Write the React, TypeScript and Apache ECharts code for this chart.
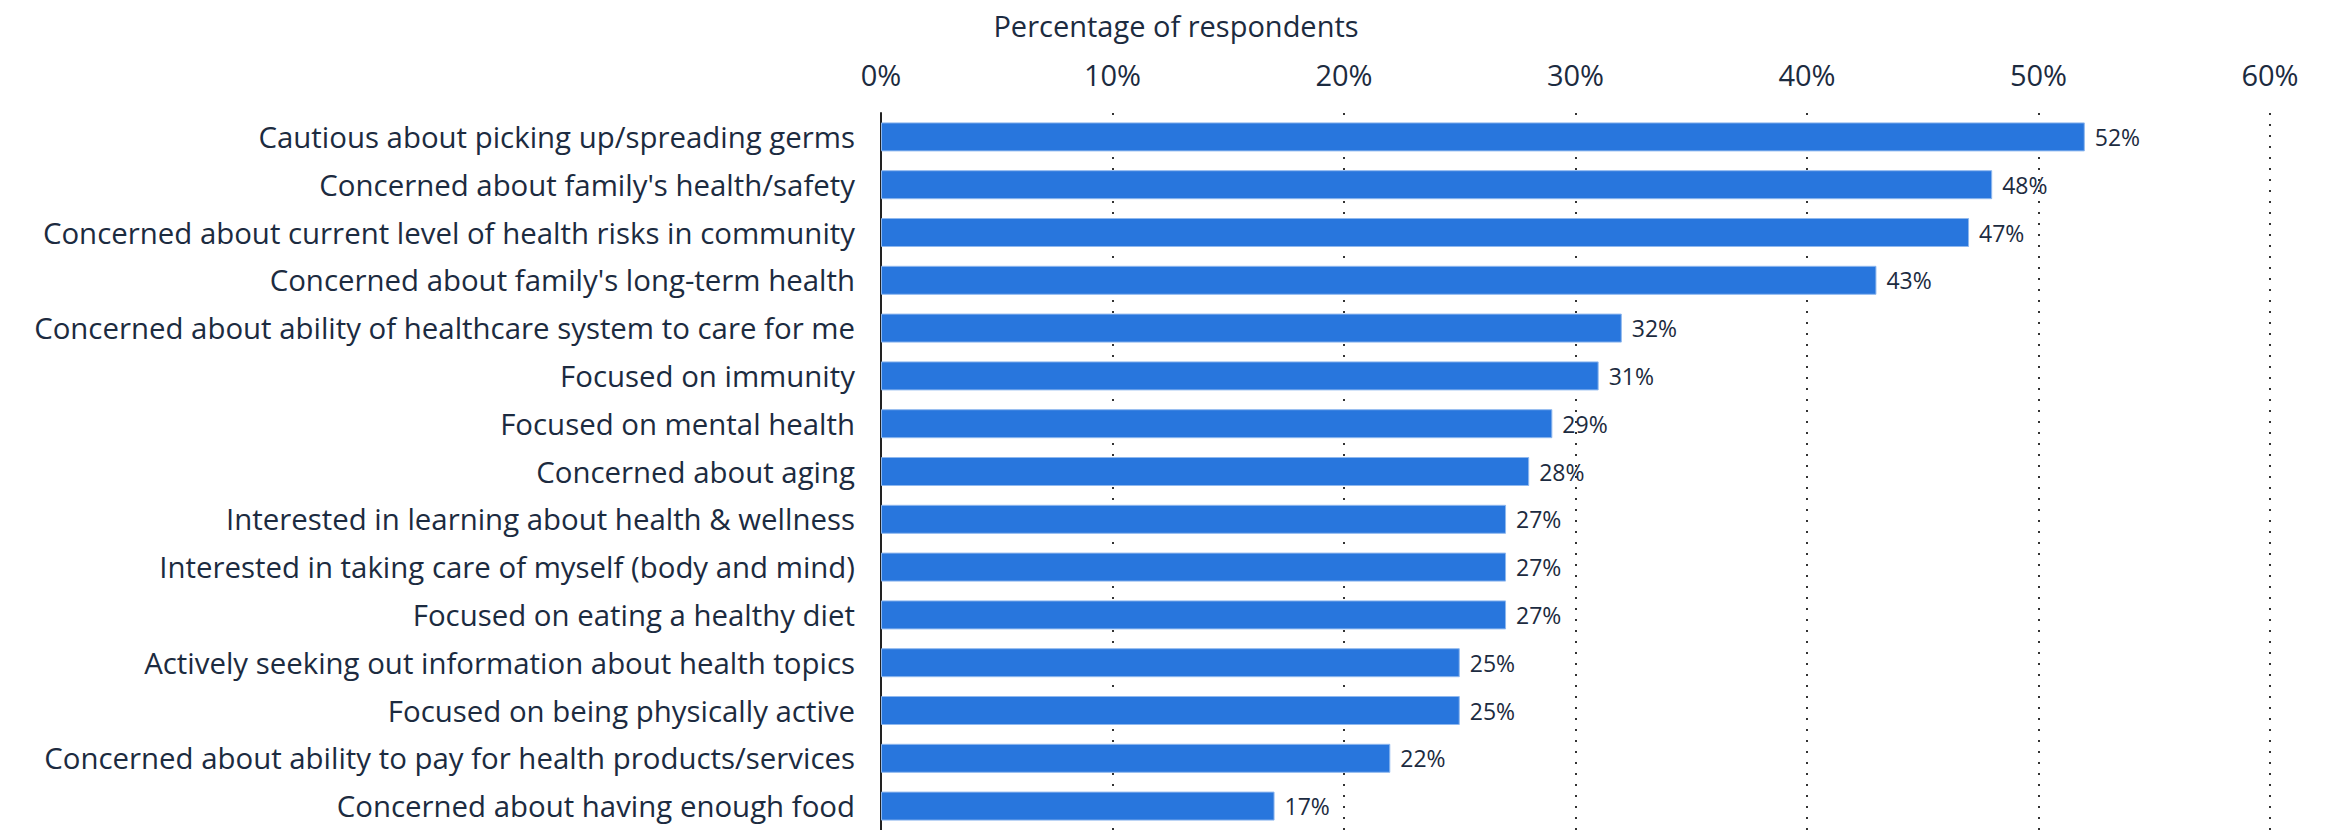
import React, { useEffect, useRef } from "react";
import * as echarts from "echarts";

const categories = [
  "Cautious about picking up/spreading germs",
  "Concerned about family's health/safety",
  "Concerned about current level of health risks in community",
  "Concerned about family's long-term health",
  "Concerned about ability of healthcare system to care for me",
  "Focused on immunity",
  "Focused on mental health",
  "Concerned about aging",
  "Interested in learning about health & wellness",
  "Interested in taking care of myself (body and mind)",
  "Focused on eating a healthy diet",
  "Actively seeking out information about health topics",
  "Focused on being physically active",
  "Concerned about ability to pay for health products/services",
  "Concerned about having enough food",
];
const values = [52, 48, 47, 43, 32, 31, 29, 28, 27, 27, 27, 25, 25, 22, 17];
const axisTitle = "Percentage of respondents";

const TEXT = "#1c2b40";
const FONT = "'Open Sans', 'Noto Sans', sans-serif";

export default function App() {
  const ref = useRef<HTMLDivElement>(null);
  useEffect(() => {
    if (!ref.current) return;
    const chart = echarts.init(ref.current, null, { renderer: "svg" });
    chart.setOption({
      animation: false,
      backgroundColor: "#ffffff",
      textStyle: { fontFamily: FONT, color: TEXT },
      graphic: [
        {
          type: "text",
          x: 1176,
          y: 25,
          style: {
            text: axisTitle,
            fontFamily: FONT,
            fontSize: 29,
            fill: TEXT,
            align: "center",
            verticalAlign: "middle",
          },
        },
      ],
      grid: { left: 881, right: 2329 - 2270, top: 113, height: 721.5 },
      xAxis: {
        type: "value",
        position: "top",
        min: 0,
        max: 60,
        interval: 10,
        axisLine: { show: false },
        axisTick: { show: false },
        axisLabel: {
          formatter: "{value}%",
          fontSize: 29,
          color: TEXT,
          fontFamily: FONT,
          margin: 24,
        },
        splitLine: {
          show: true,
          lineStyle: { color: "#333333", width: 2, type: [2, 9] },
        },
      },
      yAxis: {
        type: "category",
        data: categories,
        inverse: true,
        axisLine: { show: true, lineStyle: { color: "#222222", width: 2 } },
        axisTick: { show: false },
        axisLabel: {
          fontSize: 29.4,
          color: TEXT,
          fontFamily: FONT,
          margin: 26,
        },
      },
      series: [
        {
          type: "bar",
          data: values,
          barWidth: 29,
          itemStyle: { color: "#2876dd", borderColor: "#8fb8ee", borderWidth: 1 },
          label: {
            show: true,
            position: "right",
            distance: 10,
            formatter: "{c}%",
            fontSize: 23,
            color: TEXT,
            fontFamily: FONT,
          },
        },
      ],
    });
    return () => chart.dispose();
  }, []);
  return (
    <div
      ref={ref}
      style={{ position: "fixed", left: 0, top: 0, width: 2329, height: 830 }}
    />
  );
}
